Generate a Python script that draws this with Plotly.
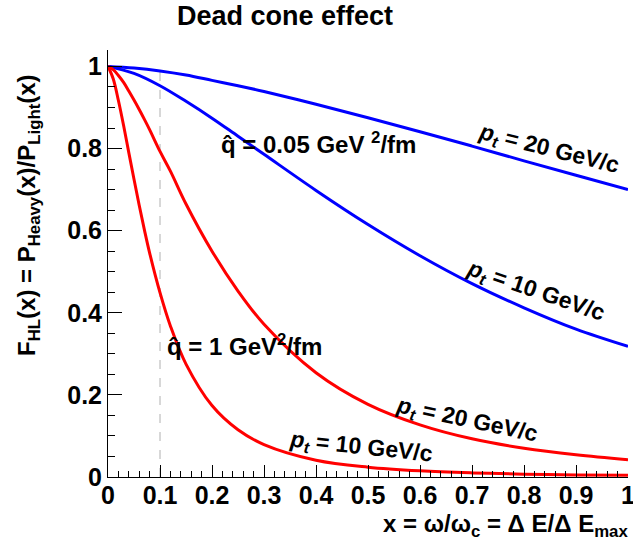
import plotly.graph_objects as go

# ---- data ----
x_blue = [0.0, 0.05, 0.1, 0.15, 0.2, 0.25, 0.3, 0.4, 0.5, 0.6, 0.7, 0.8, 0.9, 1.0]
blue_pt20 = [1.0, 0.996, 0.989, 0.979, 0.966, 0.953, 0.939, 0.908, 0.875, 0.841, 0.806, 0.770, 0.735, 0.700]
blue_pt10 = [1.0, 0.983, 0.953, 0.915, 0.874, 0.830, 0.786, 0.698, 0.615, 0.539, 0.471, 0.412, 0.360, 0.318]

x_red = [0.0, 0.01, 0.02, 0.03, 0.04, 0.05, 0.06, 0.07, 0.08, 0.1, 0.12, 0.15, 0.2, 0.25,
         0.3, 0.4, 0.5, 0.6, 0.7, 0.8, 0.9, 1.0]
red_pt20 = [1.0, 0.992, 0.978, 0.961, 0.940, 0.918, 0.895, 0.871, 0.846, 0.793, 0.745, 0.665,
            0.550, 0.453, 0.372, 0.254, 0.177, 0.127, 0.093, 0.070, 0.054, 0.042]
red_pt10 = [1.0, 0.970, 0.917, 0.856, 0.790, 0.725, 0.662, 0.602, 0.546, 0.449, 0.368, 0.275,
            0.174, 0.115, 0.079, 0.041, 0.024, 0.015, 0.010, 0.007, 0.005, 0.004]

cut_x = 0.1
x_ticks = [0, 0.1, 0.2, 0.3, 0.4, 0.5, 0.6, 0.7, 0.8, 0.9, 1]
x_ticktext = ["0", "0.1", "0.2", "0.3", "0.4", "0.5", "0.6", "0.7", "0.8", "0.9", "1"]
y_ticks = [0, 0.2, 0.4, 0.6, 0.8, 1]
y_ticktext = ["0", "0.2", "0.4", "0.6", "0.8", "1"]

W, H = 633, 546
ML, MR, MT, MB = 108, 5, 50, 69
FONT = "Liberation Sans, Arial, Helvetica, sans-serif"

def paper(px, py):
    return (px - ML) / (W - ML - MR), ((H - MB) - py) / (H - MT - MB)

fig = go.Figure()
fig.add_trace(go.Scatter(x=[cut_x, cut_x], y=[0, 1], mode="lines",
                         line=dict(color="#b0b0b0", width=1, dash="dash"), hoverinfo="skip"))
for ys, col in [(blue_pt20, "#0000ff"), (blue_pt10, "#0000ff")]:
    fig.add_trace(go.Scatter(x=x_blue, y=ys, mode="lines", line=dict(color=col, width=3, shape="spline")))
for ys, col in [(red_pt20, "#ff0000"), (red_pt10, "#ff0000")]:
    fig.add_trace(go.Scatter(x=x_red, y=ys, mode="lines", line=dict(color=col, width=3, shape="spline")))

def ann(text, px, py, size, angle=0, xanchor="center", color="black"):
    xp, yp = paper(px, py)
    fig.add_annotation(text=text, x=xp, y=yp, xref="paper", yref="paper", showarrow=False,
                       textangle=angle, xanchor=xanchor, yanchor="middle",
                       font=dict(family=FONT, size=size, color=color, weight="bold"))

ann("Dead cone effect", 285, 16, 27)
ann("F<sub>HL</sub>(x) = P<sub>Heavy</sub>(x)/P<sub>Light</sub>(x)", 28, 215, 24, angle=-90)
ann("x = \u03c9/\u03c9<sub>c</sub> = \u0394 E/\u0394 E<sub>max</sub>", 630, 525, 24, xanchor="right")
ann("q\u0302 = 0.05 GeV <sup>2</sup>/fm", 318, 143, 24)
ann("q\u0302 = 1 GeV<sup>2</sup>/fm", 244, 345, 24)
ann("<i>p</i><sub><i>t</i></sub> = 20 GeV/c", 549, 149, 23, angle=14)
ann("<i>p</i><sub><i>t</i></sub> = 10 GeV/c", 536, 291, 23, angle=19)
ann("<i>p</i><sub><i>t</i></sub> = 20 GeV/c", 467, 420, 23, angle=12)
ann("<i>p</i><sub><i>t</i></sub> = 10 GeV/c", 361, 447, 23, angle=6)

fig.update_layout(
    width=W, height=H, margin=dict(l=ML, r=MR, t=MT, b=MB, autoexpand=False),
    paper_bgcolor="white", plot_bgcolor="white", showlegend=False,
    font=dict(family=FONT, color="black"),
    xaxis=dict(range=[0, 1], showgrid=False, zeroline=False, showline=True, linecolor="black",
               linewidth=1, ticks="inside", ticklen=12, tickcolor="black", tickvals=x_ticks,
               ticktext=x_ticktext, tickfont=dict(family=FONT, size=25, weight="bold"),
               automargin=False, ticklabeloverflow="allow", ticklabelstandoff=-4,
               minor=dict(dtick=0.02, ticks="inside", ticklen=6, tickcolor="black")),
    yaxis=dict(range=[0, 1.04], showgrid=False, zeroline=False, showline=True, linecolor="black",
               linewidth=1, ticks="inside", ticklen=14, tickcolor="black", tickvals=y_ticks,
               ticktext=y_ticktext, tickfont=dict(family=FONT, size=25, weight="bold"),
               automargin=False, ticklabeloverflow="allow",
               minor=dict(dtick=0.05, ticks="inside", ticklen=7, tickcolor="black")),
)
fig.write_html("out.html", config={"displayModeBar": False},
               post_script="document.body.style.margin='0';document.body.style.overflow='hidden';")
